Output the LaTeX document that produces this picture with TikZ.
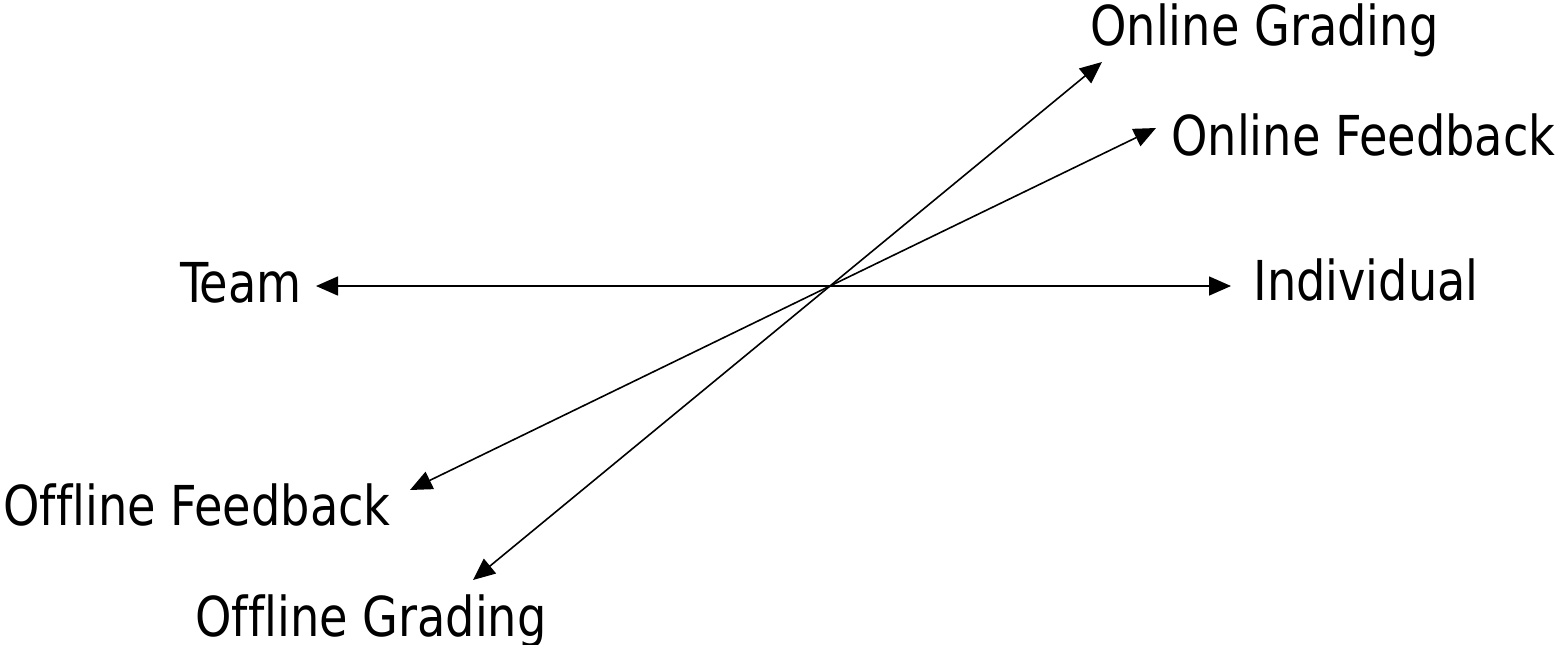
\documentclass[tikz,border=0pt]{standalone}
\usepackage{fontspec}
\setmainfont[Ligatures=NoCommon,FakeStretch=0.935]{DejaVu Sans Condensed}
\usetikzlibrary{arrows.meta}
\begin{document}
\begin{tikzpicture}[x=0.5pt,y=-0.5pt,
  lbl/.style={inner sep=0pt,anchor=base west,font=\fontsize{27.5}{33}\selectfont},
  conn/.style={line width=0.8pt,-{Triangle[length=11pt,width=9.5pt]}}]
\useasboundingbox (0,0) rectangle (1560,644);
\node[lbl] (team) at (180,302) {Team};
\node[lbl] (indiv) at (1253,300) {Individual};
\node[lbl] (ong) at (1090,45) {Online Grading};
\node[lbl] (onf) at (1171,155) {Online Feedback};
\node[lbl] (off) at (3,525) {Offline Feedback};
\node[lbl] (ofg) at (195,636) {Offline Grading};
\coordinate (ctr) at (830,286);
\coordinate (teamtip) at (316,286);
\coordinate (indivtip) at (1231,286);
\coordinate (ongtip) at (1102,62);
\coordinate (onftip) at (1156,128);
\coordinate (offtip) at (410,490);
\coordinate (ofgtip) at (473,580);
\draw[conn] (ctr) -- (teamtip);
\draw[conn] (ctr) -- (indivtip);
\draw[conn] (ctr) -- (ongtip);
\draw[conn] (ctr) -- (onftip);
\draw[conn] (ctr) -- (offtip);
\draw[conn] (ctr) -- (ofgtip);
\end{tikzpicture}
\end{document}
